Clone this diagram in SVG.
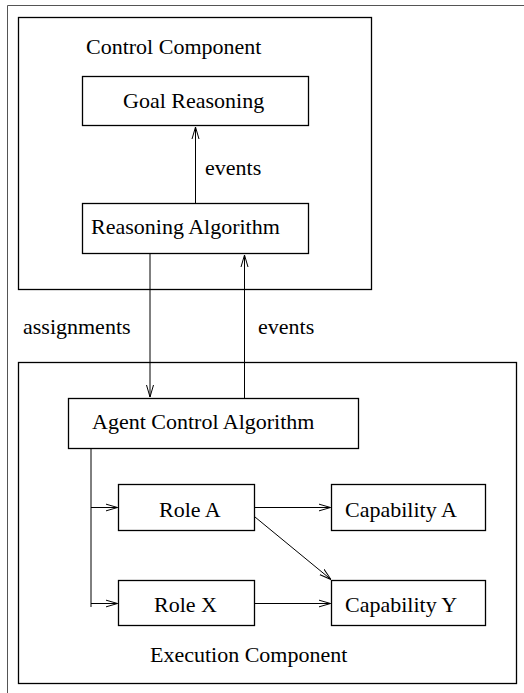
<svg xmlns="http://www.w3.org/2000/svg" width="524" height="693" viewBox="0 0 524 693">
  <style>
    .box { fill: #fff; stroke: #000; stroke-width: 1.3; }
    .frame { fill: none; stroke: #555; stroke-width: 1; }
    .conn { fill: none; stroke: #000; stroke-width: 1; }
    text { font-family: "Liberation Serif", "Times New Roman", serif; font-size: 22px; fill: #000; }
  </style>
  <defs>
    <marker id="arrow" viewBox="0 0 12 10" refX="12" refY="5" markerWidth="12" markerHeight="10" markerUnits="userSpaceOnUse" orient="auto">
      <path d="M0,1.5 L12,5 L0,8.5" fill="none" stroke="#000" stroke-width="1"/>
    </marker>
  </defs>
  <rect width="524" height="693" fill="#fff"/>

  <!-- page frame -->
  <path class="frame" d="M7.5,693 V5.5 H524"/>

  <!-- containers -->
  <g id="control-component">
    <rect class="box" x="18.5" y="17.5" width="353" height="272"/>
    <text x="86" y="54">Control Component</text>
  </g>
  <g id="execution-component">
    <rect class="box" x="18.5" y="362.5" width="498" height="321"/>
    <text x="150" y="662">Execution Component</text>
  </g>

  <!-- nodes -->
  <g id="goal-reasoning">
    <rect class="box" x="82.5" y="76.5" width="226" height="49"/>
    <text x="123" y="108">Goal Reasoning</text>
  </g>
  <g id="reasoning-algorithm">
    <rect class="box" x="82.5" y="203.5" width="226" height="50"/>
    <text x="91" y="234">Reasoning Algorithm</text>
  </g>
  <g id="agent-control-algorithm">
    <rect class="box" x="68.5" y="398.5" width="290" height="50"/>
    <text x="92" y="429">Agent Control Algorithm</text>
  </g>
  <g id="role-a">
    <rect class="box" x="118.5" y="484.5" width="136" height="46"/>
    <text x="159" y="517">Role A</text>
  </g>
  <g id="capability-a">
    <rect class="box" x="331.5" y="484.5" width="154" height="46"/>
    <text x="345" y="517">Capability A</text>
  </g>
  <g id="role-x">
    <rect class="box" x="118.5" y="580.5" width="136" height="45"/>
    <text x="154" y="612">Role X</text>
  </g>
  <g id="capability-y">
    <rect class="box" x="331.5" y="580.5" width="154" height="45"/>
    <text x="345" y="612">Capability Y</text>
  </g>

  <!-- connectors -->
  <g id="connectors">
    <line class="conn" x1="195.5" y1="203.5" x2="195.5" y2="127" marker-end="url(#arrow)"/>
    <text x="205" y="175">events</text>

    <line class="conn" x1="150" y1="253.5" x2="150" y2="397" marker-end="url(#arrow)"/>
    <text x="23" y="334">assignments</text>

    <line class="conn" x1="244.5" y1="398.5" x2="244.5" y2="255" marker-end="url(#arrow)"/>
    <text x="258" y="334">events</text>

    <path class="conn" d="M91,448.5 V607"/>
    <line class="conn" x1="91" y1="507.5" x2="117.5" y2="507.5" marker-end="url(#arrow)"/>
    <line class="conn" x1="91" y1="603.5" x2="117.5" y2="603.5" marker-end="url(#arrow)"/>

    <line class="conn" x1="254.5" y1="507.5" x2="330.5" y2="507.5" marker-end="url(#arrow)"/>
    <line class="conn" x1="254.5" y1="603.5" x2="330.5" y2="603.5" marker-end="url(#arrow)"/>
    <line class="conn" x1="255" y1="517" x2="331" y2="579.5" marker-end="url(#arrow)"/>
  </g>
</svg>
